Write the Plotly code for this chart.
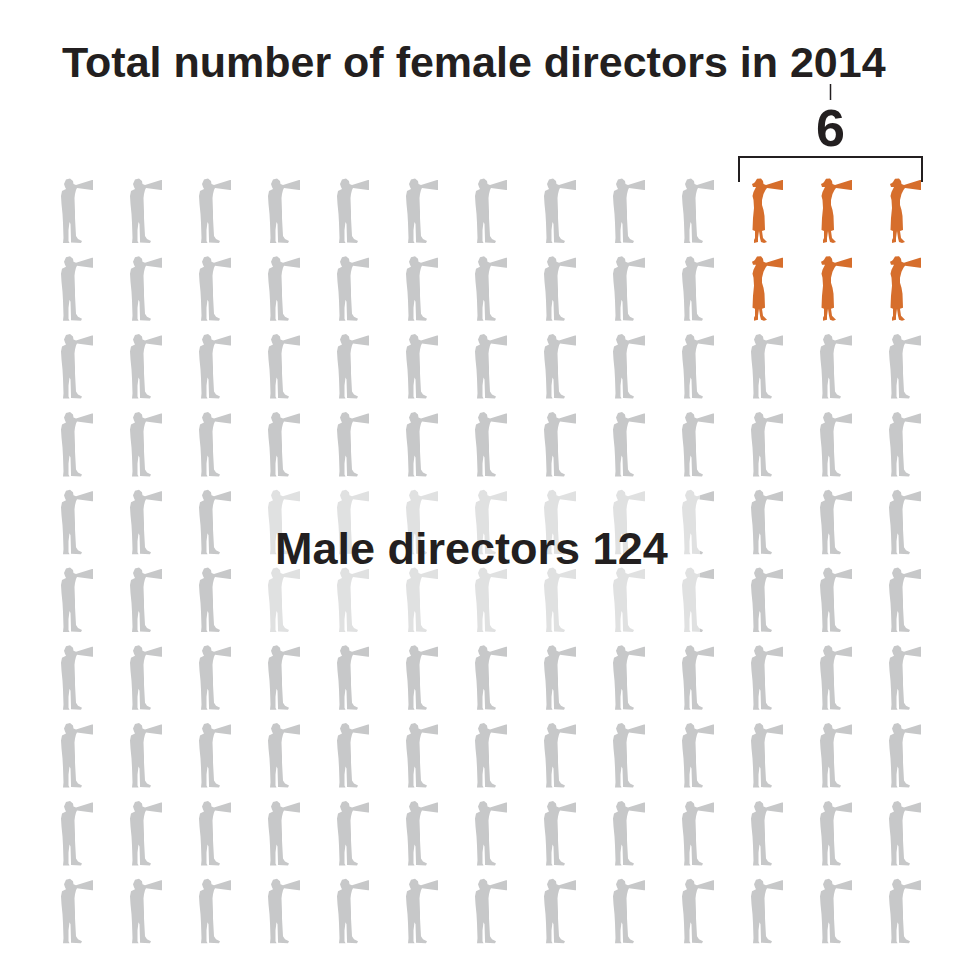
import plotly.graph_objects as go

# data
n_cols = 13
n_rows = 10
female_count = 6
male_count = 124
title = "Total number of female directors in 2014"
female_label = "6"
male_label = "Male directors 124"

GRAY = "rgb(199,200,201)"
ORANGE = "rgb(214,110,44)"

# icon outlines, local pixel units (left/top origin, ~32 x 66)
male_parts = [
    [(3, 6), (5, 1.5), (9, 0.5), (12, 3), (12.5, 6), (15, 7), (31, 2), (32, 2), (32, 12),
     (31, 12), (16, 10), (15, 12), (14, 16), (13.5, 20), (14, 34), (14, 40), (15, 58),
     (17, 61), (21, 63), (20, 65), (10, 64.5), (10, 62), (9.5, 46), (8.5, 44), (7.5, 52), (7.5, 63),
     (8.5, 65), (2, 65), (2.5, 60), (2, 45), (1.5, 36), (0.5, 26), (0, 18), (1, 13), (5, 11),
     (4, 9)],
]
female_parts = [
    [(4, 4), (6, 0.8), (10, 0.5), (12, 3), (12.5, 6), (15, 7), (31, 2), (32, 2), (32, 12),
     (31, 12), (16, 10), (14.5, 12), (12.5, 16), (11, 22), (11, 27), (12.5, 32), (13.5, 38),
     (14, 52), (11, 53), (12, 60), (14, 62), (16, 64), (13, 65), (10, 64), (9, 60), (8, 53),
     (7, 60), (7, 64), (3, 65), (3, 62), (4, 60), (4, 53), (1.5, 52), (2, 40), (3, 30),
     (2.5, 22), (1.5, 18), (2.5, 14), (4, 11), (5, 9), (2, 9), (1, 6), (3, 5)],
]

x0, dx = 61, 69
y0, dy = 178, 77.8


def icon_path(parts, left, top):
    out = ""
    for poly in parts:
        out += "M" + " L".join(f"{left + px:.1f},{top + py:.1f}" for px, py in poly) + " Z "
    return out


female_cells = [(r, c) for r in range(2) for c in range(n_cols - 3, n_cols)][:female_count]
all_cells = [(r, c) for r in range(n_rows) for c in range(n_cols)]
male_cells = [cell for cell in all_cells if cell not in female_cells][:male_count]

shapes = []
for parts, cells, col in [(male_parts, male_cells, GRAY), (female_parts, female_cells, ORANGE)]:
    for r, c in cells:
        shapes.append(dict(type="path", xref="x", yref="y", layer="below",
                           path=icon_path(parts, x0 + c * dx, y0 + r * dy),
                           fillcolor=col, line=dict(width=0)))

# fade behind the male label
shapes.append(dict(type="rect", xref="x", yref="y", x0=255, x1=700, y0=480, y1=640,
                   fillcolor="white", opacity=0.45, line=dict(width=0)))
# bracket over the female icons
fx0 = x0 + female_cells[0][1] * dx - 12
fx1 = x0 + female_cells[-1][1] * dx + 32 + 1
shapes.append(dict(type="path", xref="x", yref="y",
                   path=f"M{fx0},182 L{fx0},157 L{fx1},157 L{fx1},182",
                   line=dict(color="#231f20", width=2)))
mid = (fx0 + fx1) / 2
shapes.append(dict(type="line", xref="x", yref="y", x0=mid, x1=mid, y0=84, y1=100,
                   line=dict(color="#231f20", width=1.5)))

fig = go.Figure(go.Scatter(x=[8, 970], y=[8, 980], mode="markers", marker=dict(opacity=0),
                           hoverinfo="skip"))
font = "Liberation Sans, Arial, sans-serif"
fig.add_annotation(x=474, y=62, text=f"<b>{title}</b>", showarrow=False,
                   font=dict(family=font, size=43, color="#231f20"))
fig.add_annotation(x=mid, y=128, text=f"<b>{female_label}</b>", showarrow=False,
                   font=dict(family=font, size=52, color="#231f20"))
fig.add_annotation(x=471, y=548, text=f"<b>{male_label}</b>", showarrow=False,
                   font=dict(family=font, size=45, color="#231f20"))

fig.update_layout(width=962, height=972, margin=dict(l=0, r=0, t=0, b=0),
                  plot_bgcolor="white", paper_bgcolor="white", showlegend=False,
                  shapes=shapes,
                  xaxis=dict(range=[8, 970], visible=False, fixedrange=True),
                  yaxis=dict(range=[980, 8], visible=False, fixedrange=True))
fig.write_html("out.html")
